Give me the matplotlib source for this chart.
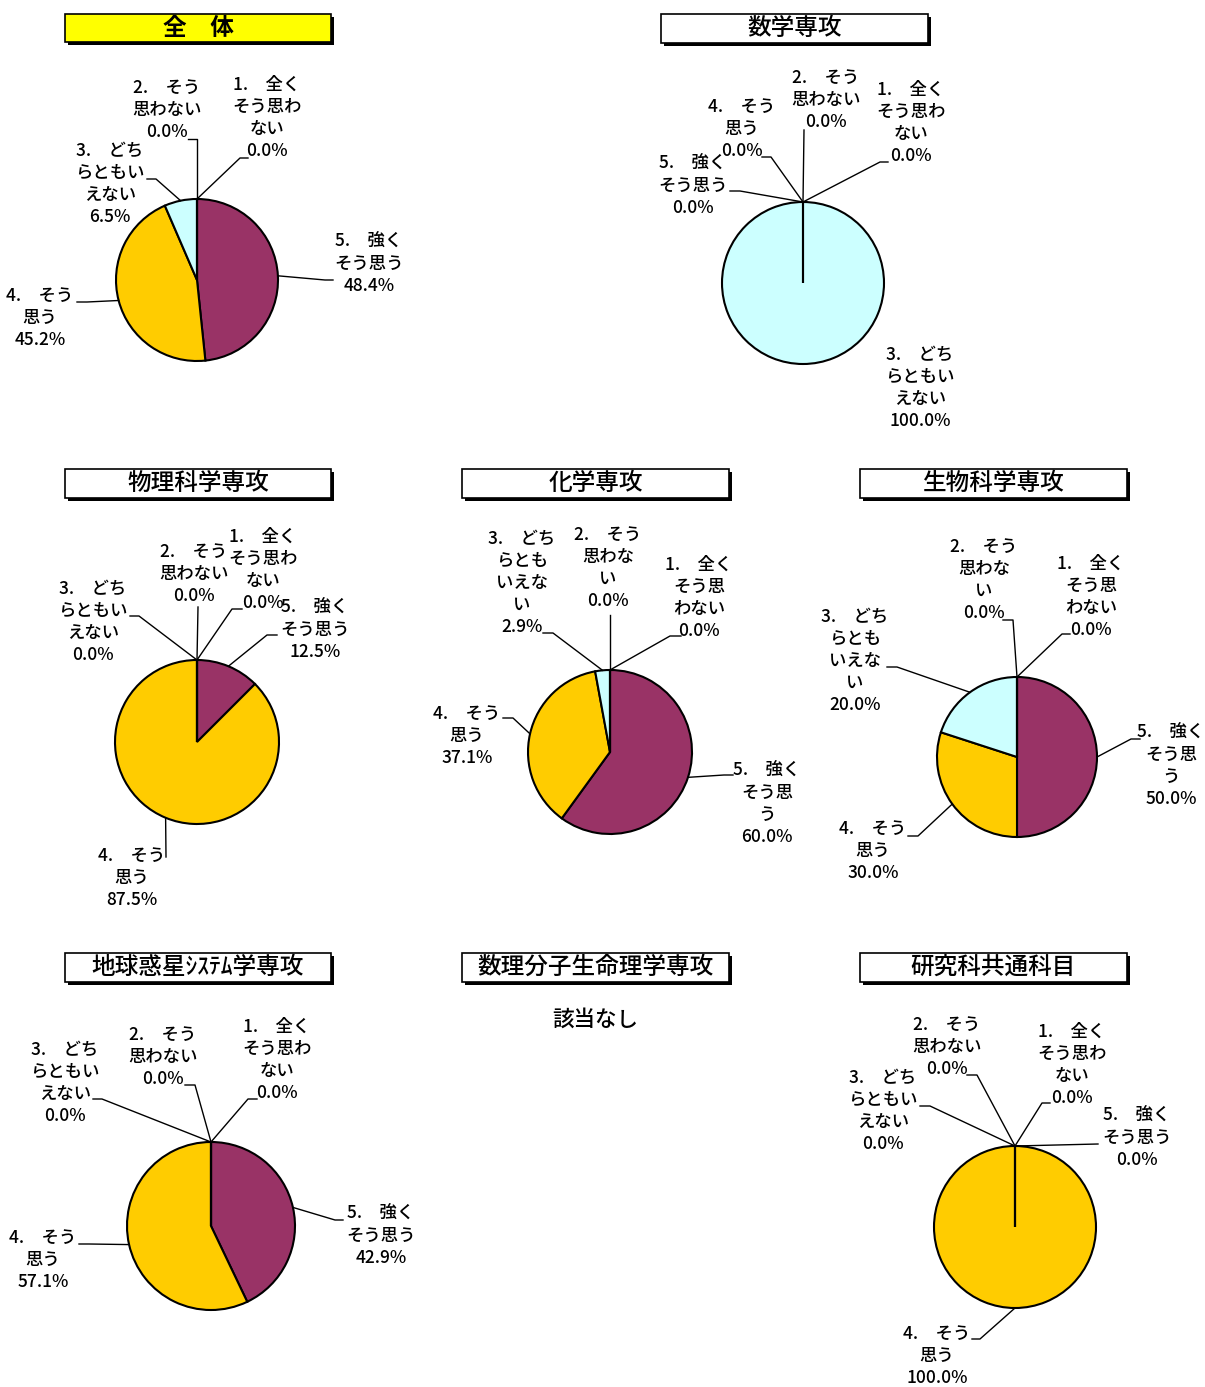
import numpy as np
import matplotlib
matplotlib.use("Agg")
import matplotlib.pyplot as plt
from matplotlib.patches import Rectangle

plt.rcParams['font.family'] = ['Noto Sans CJK JP', 'DejaVu Sans']

W, H = 1205, 1387

# ---- data (slice order = clockwise from 12 o'clock) ----
cat_nums = ["5.", "4.", "3.", "2.", "1."]
cat_text = ["強くそう思う", "そう思う", "どちらともいえない", "そう思わない", "全くそう思わない"]
cat_colors = ["#993366", "#FFCC00", "#CCFFFF", "#FFFFCC", "#9999FF"]

zentai = [48.4, 45.2, 6.5, 0.0, 0.0]
sugaku = [0.0, 0.0, 100.0, 0.0, 0.0]
butsuri = [12.5, 87.5, 0.0, 0.0, 0.0]
kagaku = [60.0, 37.1, 2.9, 0.0, 0.0]
seibutsu = [50.0, 30.0, 20.0, 0.0, 0.0]
chikyu = [42.9, 57.1, 0.0, 0.0, 0.0]
kyotsu = [0.0, 100.0, 0.0, 0.0, 0.0]

no_data_text = "該当なし"

# ---- layout (image pixel coords, y down) ----
# per label: (text centre, leader anchor, elbow) in order 5,4,3,2,1
charts = [
    dict(title="全　体", vals=zentai, box=(65, 14, 331, 42), fill="#FFFF00", bold=True,
         c=(197, 280), r=81, wrap=4,
         labels=[((369, 264), (333, 280), (325, 280)),
                 ((40, 318), (77, 302), (87, 302)),
                 ((110, 184), (147, 179), (156, 179)),
                 ((167, 110), (188, 139), (197, 139)),
                 ((267, 118), (248, 158), (240, 158))]),
    dict(title="数学専攻", vals=sugaku, box=(661, 14, 928, 43),
         c=(803, 283), r=81, wrap=4,
         labels=[((693, 186), (730, 191), (740, 191)),
                 ((742, 129), (762, 157), (771, 157)),
                 ((920, 388), None, None),
                 ((826, 100), (804, 130), None),
                 ((911, 123), (888, 162), (880, 162))]),
    dict(title="物理科学専攻", vals=butsuri, box=(65, 469, 331, 498),
         c=(197, 742), r=82, wrap=4,
         labels=[((315, 630), (277, 635), (267, 635)),
                 ((132, 878), (166, 857), None),
                 ((93, 622), (130, 616), (139, 616)),
                 ((194, 574), (198, 607), None),
                 ((263, 570), (242, 609), (232, 609))]),
    dict(title="化学専攻", vals=kagaku, box=(462, 469, 729, 498),
         c=(610, 752), r=82, wrap=3,
         labels=[((767, 804), (733, 775), (724, 775)),
                 ((467, 736), (503, 718), (513, 718)),
                 ((522, 583), (543, 633), (553, 633)),
                 ((608, 568), (610, 615), None),
                 ((699, 598), (681, 636), (670, 636))]),
    dict(title="生物科学専攻", vals=seibutsu, box=(860, 469, 1127, 498),
         c=(1017, 757), r=80, wrap=3,
         labels=[((1171, 766), (1140, 739), (1131, 739)),
                 ((873, 851), (908, 836), (918, 836)),
                 ((855, 661), (887, 667), (897, 667)),
                 ((984, 580), (1003, 620), (1013, 620)),
                 ((1091, 597), (1070, 634), (1062, 634))]),
    dict(title="地球惑星ｼｽﾃﾑ学専攻", vals=chikyu, box=(65, 953, 331, 982),
         c=(211, 1226), r=84, wrap=4,
         labels=[((381, 1236), (343, 1220), (335, 1220)),
                 ((43, 1260), (79, 1244), (89, 1244)),
                 ((65, 1083), (93, 1099), (102, 1099)),
                 ((163, 1057), (185, 1085), (195, 1085)),
                 ((277, 1060), (257, 1099), (248, 1099))]),
    dict(title="数理分子生命理学専攻", vals=None, box=(462, 953, 729, 982)),
    dict(title="研究科共通科目", vals=kyotsu, box=(860, 953, 1127, 982),
         c=(1015, 1227), r=81, wrap=4,
         labels=[((1137, 1138), (1098, 1144), None),
                 ((937, 1356), (972, 1339), (980, 1339)),
                 ((883, 1111), (920, 1106), (930, 1106)),
                 ((947, 1047), (967, 1075), (977, 1075)),
                 ((1072, 1065), (1050, 1103), (1042, 1103))]),
]


def Y(y):
    return H - y


def wrap_label(num, body, w, val):
    lines = [f"{num}　{body[:2]}"]
    rest = body[2:]
    while rest:
        lines.append(rest[:w])
        rest = rest[w:]
    lines.append(f"{val:.1f}%")
    return "\n".join(lines)


fig = plt.figure(figsize=(W / 100, H / 100), dpi=100)
ax = fig.add_axes([0, 0, 1, 1])

for ch in charts:
    x0, y0, x1, y1 = ch["box"]
    # title box with shadow
    ax.add_patch(Rectangle((x0 + 3, Y(y1) - 3), x1 - x0, y1 - y0, facecolor="black", edgecolor="none", zorder=2))
    ax.add_patch(Rectangle((x0, Y(y1)), x1 - x0, y1 - y0, facecolor=ch.get("fill", "white"),
                           edgecolor="black", linewidth=1.2, zorder=3))
    ax.text((x0 + x1) / 2, Y((y0 + y1) / 2), ch["title"], ha="center", va="center", fontsize=17,
            fontweight="bold" if ch.get("bold") else 500, zorder=4)

    if ch["vals"] is None:
        ax.text((x0 + x1) / 2, Y(1020), no_data_text, ha="center", va="center", fontsize=15.5,
                fontweight=500)
        continue

    cx, cy = ch["c"]
    r = ch["r"]
    wedges, _ = ax.pie(ch["vals"], colors=cat_colors, startangle=90, counterclock=False,
                       center=(cx, Y(cy)), radius=r, frame=True,
                       wedgeprops=dict(edgecolor="black", linewidth=1.5))

    for i, (w, (tpos, anchor, elbow)) in enumerate(zip(wedges, ch["labels"])):
        txt = wrap_label(cat_nums[i], cat_text[i], ch["wrap"], ch["vals"][i])
        ax.text(tpos[0], Y(tpos[1]), txt, ha="center", va="center", multialignment="center",
                fontsize=12.5, linespacing=1.28, fontweight=500, zorder=5)
        if anchor is None:
            continue
        mid = np.deg2rad((w.theta1 + w.theta2) / 2)
        sx, sy = cx + r * np.cos(mid), Y(cy) + r * np.sin(mid)
        pts = [(sx, sy)]
        if elbow is not None:
            pts.append((elbow[0], Y(elbow[1])))
        pts.append((anchor[0], Y(anchor[1])))
        xs, ys = zip(*pts)
        ax.plot(xs, ys, color="black", linewidth=1.0, zorder=1)

ax.set_xlim(0, W)
ax.set_ylim(0, H)
ax.set_aspect("equal")
ax.set_axis_off()

fig.savefig("out.png", dpi=100, facecolor="white")
